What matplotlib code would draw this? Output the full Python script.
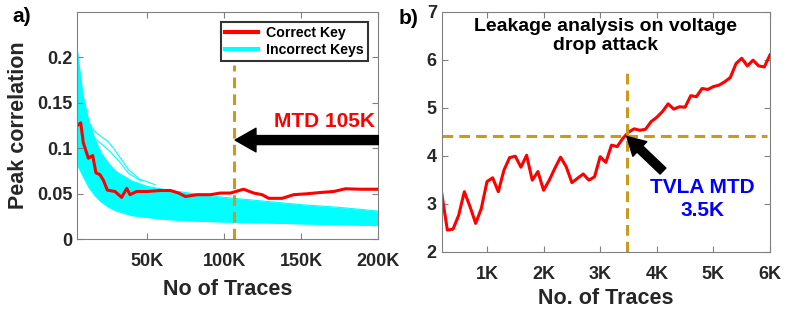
import matplotlib
matplotlib.use('Agg')
import matplotlib.pyplot as plt

plt.rcParams['font.family'] = ['Liberation Sans', 'DejaVu Sans']
plt.rcParams['font.weight'] = 'bold'
plt.rcParams['axes.labelweight'] = 'bold'

# ---- panel a) data (read off the picture) ----
red_x = [4500, 6700, 8400, 11700, 14500, 16600, 19200, 21400, 24000, 29000,
         33300, 36600, 38700, 43000, 49800, 58400, 65000, 70300, 74700, 82300,
         91000, 97400, 103900, 112500, 119000, 124500, 128800, 137500, 145000,
         153700, 162300, 171000, 178600, 188300, 200000]
red_y = [0.125, 0.128, 0.106, 0.089, 0.092, 0.073, 0.071, 0.065, 0.054, 0.0525,
         0.046, 0.056, 0.049, 0.0525, 0.0525, 0.0536, 0.0536, 0.0508, 0.047, 0.049,
         0.049, 0.0508, 0.0508, 0.055, 0.0508, 0.049, 0.045, 0.045, 0.049,
         0.050, 0.0514, 0.0525, 0.0555, 0.055, 0.055]

# incorrect keys: dense band envelope plus a couple of stray traces
band_x = [4500, 8000, 12000, 16000, 20000, 25000, 30000, 40000, 50000, 60000,
          80000, 100000, 125000, 150000, 175000, 200000]
band_hi = [0.208, 0.160, 0.130, 0.110, 0.095, 0.083, 0.074, 0.064, 0.058, 0.055,
           0.050, 0.046, 0.042, 0.038, 0.035, 0.031]
band_lo = [0.082, 0.070, 0.057, 0.048, 0.041, 0.035, 0.031, 0.026, 0.024, 0.022,
           0.020, 0.019, 0.018, 0.017, 0.016, 0.015]
stray1_x = [12000, 16000, 19000, 24000, 28000, 33000, 38000, 45000, 55000]
stray1_y = [0.128, 0.118, 0.114, 0.108, 0.100, 0.088, 0.076, 0.066, 0.060]
stray2_x = [15000, 20000, 26000, 32000, 38000, 46000]
stray2_y = [0.112, 0.105, 0.096, 0.085, 0.072, 0.064]

mtd_a = 106000

# ---- panel b) data ----
tvla_x = list(range(200, 6100, 100))
tvla_y = [3.22, 2.45, 2.47, 2.76, 3.25, 2.94, 2.59, 2.90, 3.46, 3.54,
          3.25, 3.70, 3.96, 3.99, 3.76, 4.01, 3.49, 3.67, 3.28, 3.49,
          3.74, 3.97, 3.77, 3.44, 3.53, 3.62, 3.49, 3.56, 3.98, 3.86,
          4.22, 4.19, 4.36, 4.49, 4.56, 4.53, 4.55, 4.71, 4.80, 4.92,
          5.08, 4.97, 5.02, 5.01, 5.25, 5.23, 5.40, 5.38, 5.44, 5.47,
          5.54, 5.63, 5.92, 6.03, 5.87, 5.99, 5.87, 5.85, 6.10]
mtd_b = 3470
thr_b = 4.42

gold = '#CC9A1A'
axcol = '#808080'
txtcol = '#262626'

fig = plt.figure(figsize=(7.97, 3.09), dpi=100)
ax1 = fig.add_axes([0.097, 0.2256, 0.3777, 0.7365])
ax2 = fig.add_axes([0.5542, 0.1854, 0.4119, 0.7767])

for ax in (ax1, ax2):
    ax.tick_params(direction='in', top=True, right=True, length=4,
                   color=axcol, labelcolor=txtcol, labelsize=13, width=0.8)
    ax.tick_params(axis='x', pad=10)
    for sp in ax.spines.values():
        sp.set_color(axcol)
        sp.set_linewidth(0.8)

# panel a
ax1.fill_between(band_x, band_lo, band_hi, color='cyan', lw=0)
ax1.plot(band_x, band_hi, color='cyan', lw=0.8)
ax1.plot(band_x, band_lo, color='cyan', lw=0.8)
ax1.plot(stray1_x, stray1_y, color='cyan', lw=0.8)
ax1.plot(stray2_x, stray2_y, color='cyan', lw=0.8)
ax1.plot(red_x, red_y, color='red', lw=2.2)
ax1.plot([mtd_a, mtd_a], [0, 0.192], color=gold, lw=2.2, ls=(0, (3.5, 2)))

ax1.set_xlim(4500, 200000)
ax1.set_ylim(0, 0.25)
ax1.set_xticks([50000, 100000, 150000, 200000])
ax1.set_xticklabels(['50K', '100K', '150K', '200K'])
ax1.set_yticks([0, 0.05, 0.1, 0.15, 0.2])
ax1.set_yticklabels(['0', '0.05', '0.1', '0.15', '0.2'])
ax1.set_xlabel('No of Traces', fontsize=15.5, color=txtcol, labelpad=6)
ax1.set_ylabel('Peak correlation', fontsize=15.5, color=txtcol, labelpad=6)

ax1.annotate('', xy=(107000, 0.109), xytext=(200000, 0.109),
             arrowprops=dict(arrowstyle='simple,head_length=1.5,head_width=1.7,tail_width=0.65',
                             color='black', mutation_scale=10, shrinkA=0, shrinkB=0))
ax1.text(198000, 0.129, 'MTD 105K', color='red', fontsize=15, ha='right', va='center')

h1, = ax1.plot([], [], color='red', lw=3)
h2, = ax1.plot([], [], color='cyan', lw=3)
leg = ax1.legend([h1, h2], ['Correct Key', 'Incorrect Keys'], loc='upper right',
                 fontsize=10.2, frameon=True, fancybox=False, handlelength=2.3,
                 borderpad=0.3, labelspacing=0.15, handletextpad=0.6,
                 bbox_to_anchor=(0.99, 0.985))
leg.get_frame().set_edgecolor('black')
leg.get_frame().set_linewidth(1.5)

# panel b
ax2.plot(tvla_x, tvla_y, color='red', lw=2.2)
ax2.plot([mtd_b, mtd_b], [2, 5.73], color=gold, lw=2.2, ls=(0, (3.5, 2)))
ax2.plot([200, 5950], [thr_b, thr_b], color=gold, lw=2.2, ls=(0, (3.5, 2)))
ax2.set_xlim(200, 6000)
ax2.set_ylim(2, 7)
ax2.set_xticks([1000, 2000, 3000, 4000, 5000, 6000])
ax2.set_xticklabels(['1K', '2K', '3K', '4K', '5K', '6K'])
ax2.set_yticks([2, 3, 4, 5, 6, 7])
ax2.set_xlabel('No. of Traces', fontsize=15.5, color=txtcol, labelpad=4)

ax2.annotate('', xy=(3470, 4.40), xytext=(4110, 3.68),
             arrowprops=dict(arrowstyle='simple,head_length=1.3,head_width=1.45,tail_width=0.6',
                             color='black', mutation_scale=10, shrinkA=0, shrinkB=0))
ax2.text(4810, 3.10, 'TVLA MTD\n3.5K', color='blue', fontsize=15, ha='center',
         va='center', linespacing=1.25)
ax2.text(0.5, 0.975, 'Leakage analysis on voltage\ndrop attack', transform=ax2.transAxes,
         fontsize=14, color='black', ha='center', va='top', linespacing=1.2)

fig.text(12 / 797, 1 - 17 / 309, 'a)', fontsize=15, color='black', ha='left', va='center')
fig.text(399 / 797, 1 - 18 / 309, 'b)', fontsize=15, color='black', ha='left', va='center')

fig.savefig('out.png', dpi=100)
